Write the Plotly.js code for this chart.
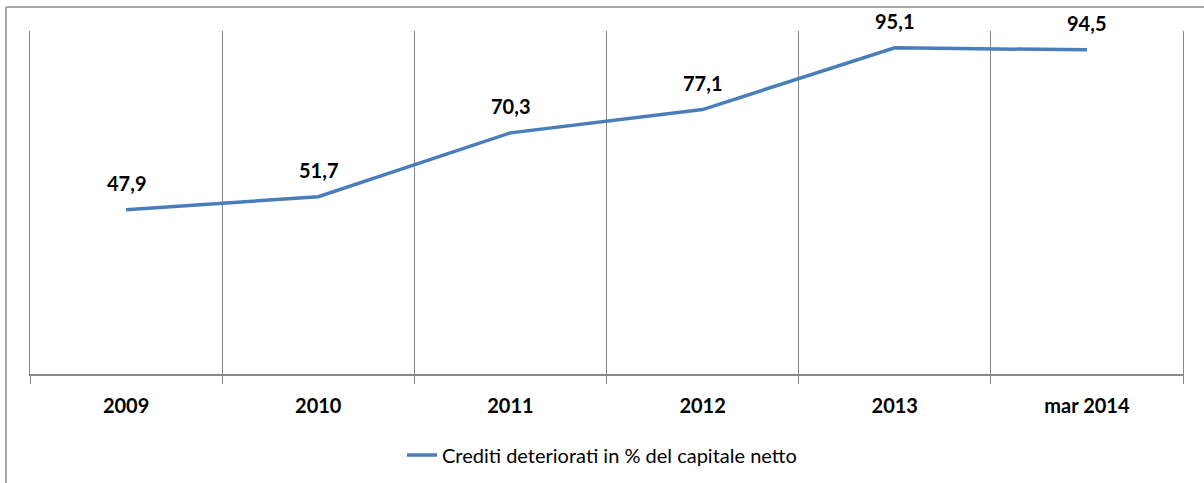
<!DOCTYPE html>
<html>
<head>
<meta charset="utf-8">
<script src="https://cdn.plot.ly/plotly-3.0.1.min.js"></script>
<style>html,body{margin:0;padding:0;background:#fff;}#chart{width:1204px;height:483px;}</style>
</head>
<body>
<div id="chart"></div>
<script>
const categories = ["2009", "2010", "2011", "2012", "2013", "mar 2014"];
const values = [47.9, 51.7, 70.3, 77.1, 95.1, 94.5];
const valueLabels = ["47,9", "51,7", "70,3", "77,1", "95,1", "94,5"];
const seriesName = "Crediti deteriorati in % del capitale netto";

const FONT = "Lato, 'Open Sans', sans-serif";

const trace = {
  type: "scatter",
  mode: "lines",
  x: categories,
  y: values,
  name: seriesName,
  line: {color: "#4a7ebb", width: 3.5},
  hoverinfo: "none"
};

// category axes take the category index for annotation positions
const annotations = categories.map((c, i) => ({
  x: i, y: values[i], xref: "x", yref: "y",
  text: "<b>" + valueLabels[i] + "</b>",
  showarrow: false, yshift: 27,
  font: {family: FONT, size: 20, color: "#000"}
}));

const pw = 1204 - 30 - 21, ph = 483 - 31 - 109;
const px = v => (v - 30) / pw;
const py = v => (483 - 109 - v) / ph;

const layout = {
  width: 1204, height: 483,
  margin: {l: 30, r: 21, t: 31, b: 109},
  paper_bgcolor: "#fff", plot_bgcolor: "#fff",
  font: {family: FONT, color: "#000"},
  showlegend: true,
  legend: {orientation: "h", x: 0.5, xanchor: "center", xref: "container", y: 0.058, yanchor: "middle", yref: "container",
           font: {family: FONT, size: 20, color: "#000"}},
  xaxis: {
    type: "category", range: [-0.5, 5.5], tickson: "boundaries",
    showgrid: true, gridcolor: "#878787", gridwidth: 1,
    showline: true, linecolor: "#878787", linewidth: 1.5,
    ticks: "outside", ticklen: 8, tickcolor: "#878787", tickwidth: 1,
    ticklabelstandoff: 13,
    tickfont: {family: FONT, size: 20, color: "#000", weight: "bold"},
    fixedrange: true
  },
  yaxis: {
    range: [0, 100], showgrid: false, zeroline: false, showticklabels: false,
    showline: true, mirror: true, linecolor: "#878787", linewidth: 1,
    ticks: "", fixedrange: true
  },
  annotations: annotations,
  shapes: [
    {type: "line", xref: "paper", yref: "paper", x0: px(6), x1: px(1210), y0: py(7), y1: py(7), line: {color: "#a6a6a6", width: 2}},
    {type: "line", xref: "paper", yref: "paper", x0: px(6), x1: px(6), y0: py(7), y1: py(490), line: {color: "#a6a6a6", width: 2}}
  ]
};

Plotly.newPlot("chart", [trace], layout, {displayModeBar: false, staticPlot: true});
</script>
</body>
</html>
